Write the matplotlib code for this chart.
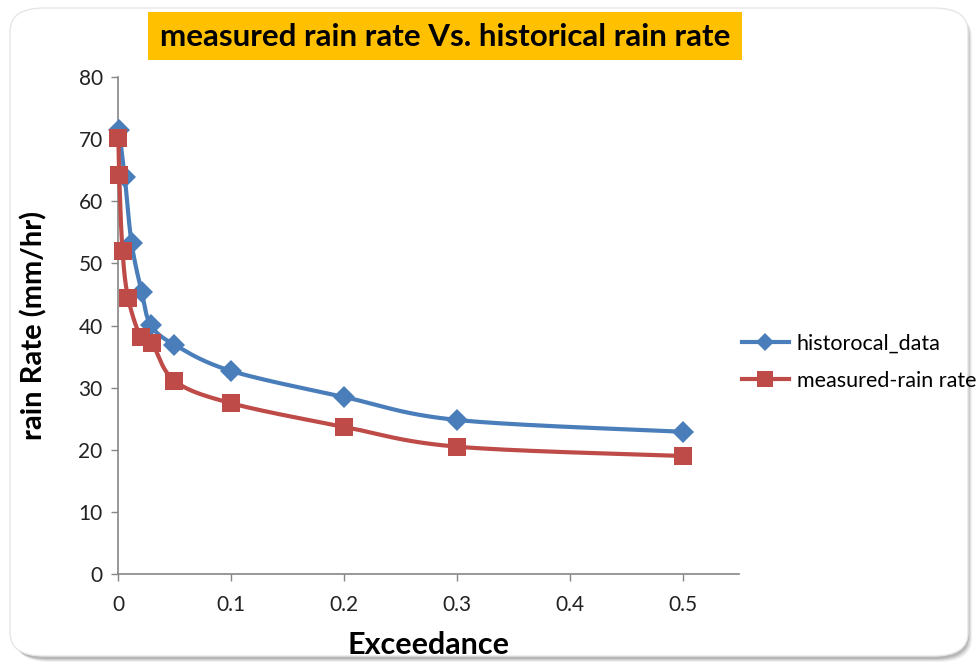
import numpy as np
import matplotlib
matplotlib.use("Agg")
import matplotlib.pyplot as plt
from matplotlib.patches import FancyBboxPatch, Rectangle

plt.rcParams['font.family'] = ['Lato', 'DejaVu Sans']

# exceedance probability vs rain rate (mm/hr)
hist_x = [0.001, 0.006, 0.012, 0.021, 0.029, 0.05, 0.1, 0.2, 0.3, 0.5]
hist_y = [71.5, 63.9, 53.3, 45.4, 40.1, 36.9, 32.7, 28.5, 24.8, 22.9]
meas_x = [0.0003, 0.001, 0.004, 0.009, 0.02, 0.03, 0.05, 0.1, 0.2, 0.3, 0.5]
meas_y = [70.2, 64.2, 52.0, 44.4, 38.2, 37.2, 31.1, 27.5, 23.7, 20.5, 19.0]

x_ticks = [0, 0.1, 0.2, 0.3, 0.4, 0.5]
y_ticks = [0, 10, 20, 30, 40, 50, 60, 70, 80]

BLUE = '#4a7ebb'
RED = '#be4b48'
AXIS_GRAY = '#868686'


def smooth_curve(x, y, sx=1.0, sy=1.0, n=40):
    # Catmull-Rom style bezier through the points (like spreadsheet smoothed lines)
    p = np.column_stack([np.asarray(x) * sx, np.asarray(y) * sy])
    pts = np.vstack([p[0], p, p[-1]])
    out = []
    t = np.linspace(0, 1, n)[:, None]
    for i in range(1, len(pts) - 2):
        p0, p1, p2, p3 = pts[i - 1], pts[i], pts[i + 1], pts[i + 2]
        c1 = p1 + (p2 - p0) / 6.0
        c2 = p2 - (p3 - p1) / 6.0
        seg = ((1 - t) ** 3) * p1 + 3 * ((1 - t) ** 2) * t * c1 + 3 * (1 - t) * t ** 2 * c2 + t ** 3 * p2
        out.append(seg if i == 1 else seg[1:])
    out = np.vstack(out)
    return out[:, 0] / sx, out[:, 1] / sy


fig = plt.figure(figsize=(9.76, 6.64), dpi=100)
fig.patch.set_facecolor('white')

# rounded chart panel with a soft shadow
W, H = 976.0, 664.0
for k, a in enumerate([0.10, 0.14, 0.20, 0.28]):
    off = 4 - k
    shadow = FancyBboxPatch(((12 + off) / W, (6 - off) / H), (956) / W, (648) / H,
                            boxstyle="round,pad=0,rounding_size=0.035",
                            transform=fig.transFigure, facecolor='#7f7f7f',
                            edgecolor='none', alpha=a, zorder=0)
    fig.patches.append(shadow)
panel = FancyBboxPatch((10 / W, 8 / H), 958 / W, 648 / H,
                       boxstyle="round,pad=0,rounding_size=0.035",
                       transform=fig.transFigure, facecolor='white',
                       edgecolor='#e6e6e6', linewidth=1.0, zorder=0.5)
fig.patches.append(panel)

ax = fig.add_axes([118 / W, 90 / H, 621 / W, 497 / H])
ax.set_facecolor('none')
ax.set_zorder(3)

ax.set_xlim(0, 0.55)
ax.set_ylim(0, 80)
sx, sy = 621 / 0.55, 497 / 80.0

hx, hy = smooth_curve(hist_x, hist_y, sx, sy)
mx, my = smooth_curve(meas_x, meas_y, sx, sy)

ax.plot(hx, hy, color=BLUE, lw=3.0, solid_capstyle='round', zorder=3, clip_on=False)
ax.plot(hist_x, hist_y, linestyle='none', marker='D', markersize=11.5,
        color=BLUE, markeredgewidth=0, zorder=4, clip_on=False)
ax.plot(mx, my, color=RED, lw=3.0, solid_capstyle='round', zorder=5, clip_on=False)
ax.plot(meas_x, meas_y, linestyle='none', marker='s', markersize=12.5,
        color=RED, markeredgewidth=0, zorder=6, clip_on=False)

ax.set_xticks(x_ticks)
ax.set_xticklabels([f"{v:g}" for v in x_ticks])
ax.set_yticks(y_ticks)
for s in ['top', 'right']:
    ax.spines[s].set_visible(False)
for s in ['left', 'bottom']:
    ax.spines[s].set_color(AXIS_GRAY)
    ax.spines[s].set_linewidth(1.2)
ax.tick_params(axis='both', direction='out', length=5, width=1.0, color=AXIS_GRAY,
               labelsize=15, labelcolor='#222222')
ax.tick_params(axis='x', pad=10)
ax.tick_params(axis='y', pad=6)

ax.set_xlabel('Exceedance', fontsize=22, fontweight='bold', labelpad=12)
ax.set_ylabel('rain Rate (mm/hr)', fontsize=21, fontweight='bold', labelpad=22)

# legend drawn with proxy handles at the right of the plot
h1, = ax.plot([], [], color=BLUE, lw=3.0, marker='D', markersize=9, markeredgewidth=0)
h2, = ax.plot([], [], color=RED, lw=3.0, marker='s', markersize=11, markeredgewidth=0)
leg = fig.legend([h1, h2], ['historocal_data', 'measured-rain rate'],
                 loc='center left', bbox_to_anchor=(733 / W, 1 - 362 / H),
                 frameon=False, fontsize=15.5, handlelength=2.2, handletextpad=0.35,
                 labelspacing=0.8, borderaxespad=0)
leg.set_zorder(4)

# title on an orange band
fig.patches.append(Rectangle((148 / W, 1 - 60 / H), 594 / W, 48 / H,
                             transform=fig.transFigure, facecolor='#ffc000',
                             edgecolor='none', zorder=1))
fig.text(445 / W, 1 - 37 / H, 'measured rain rate Vs. historical rain rate',
         ha='center', va='center', fontsize=22.5, fontweight='bold', color='black',
         zorder=2)

fig.savefig('out.png', dpi=100)
